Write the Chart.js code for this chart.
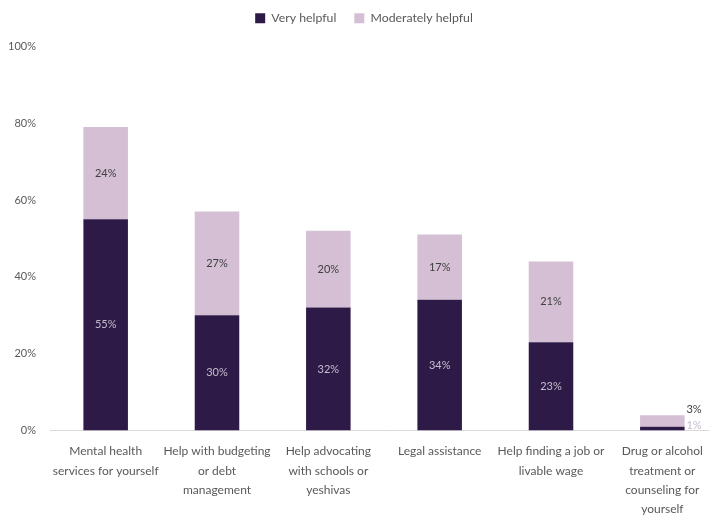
<!DOCTYPE html>
<html>
<head>
<meta charset="utf-8">
<script src="https://cdn.jsdelivr.net/npm/chart.js@4.4.0/dist/chart.umd.min.js"></script>
<style>
  html, body { margin: 0; padding: 0; background: #fff; overflow: hidden; }
  #wrap { width: 718px; height: 515px; position: relative; }
</style>
</head>
<body>
<div id="wrap"><canvas id="chart"></canvas></div>
<script>
const categories = [
  ["Mental health", "services for yourself"],
  ["Help with budgeting", "or debt", "management"],
  ["Help advocating", "with schools or", "yeshivas"],
  ["Legal assistance"],
  ["Help finding a job or", "livable wage"],
  ["Drug or alcohol", "treatment or", "counseling for", "yourself"]
];
const veryHelpful = [55, 30, 32, 34, 23, 1];
const moderatelyHelpful = [24, 27, 20, 17, 21, 3];
const yTicks = [0, 20, 40, 60, 80, 100];

const darkColor = "#2e1a47";
const lightColor = "#d4bfd4";

// labels inside the segments, last small bar gets labels beside it
const segmentLabels = {
  id: "segmentLabels",
  afterDatasetsDraw(chart) {
    const ctx = chart.ctx;
    ctx.save();
    ctx.font = "11px Lato";
    ctx.textBaseline = "middle";
    chart.data.datasets.forEach((ds, di) => {
      const meta = chart.getDatasetMeta(di);
      meta.data.forEach((bar, i) => {
        const txt = ds.data[i] + "%";
        ctx.fillStyle = di === 0 ? "#c4bccc" : "#404040";
        if (i === ds.data.length - 1) {
          ctx.textAlign = "right";
          const x = bar.x + bar.width / 2 + 17;
          const y = di === 0 ? bar.y - 1 : bar.y - 6;
          ctx.fillText(txt, x, y);
        } else {
          ctx.textAlign = "center";
          ctx.fillText(txt, bar.x, (bar.y + bar.base) / 2);
        }
      });
    });
    ctx.restore();
  }
};

// extra space under the legend, and nudge it a bit to the right
const legendMargin = {
  id: "legendMargin",
  beforeInit(chart) {
    const legend = chart.legend;
    const fit = legend.fit;
    const draw = legend.draw;
    legend.fit = function () {
      fit.call(this);
      this.height += 12;
    };
    legend.draw = function () {
      chart.ctx.save();
      chart.ctx.translate(5, 0);
      draw.call(this);
      chart.ctx.restore();
    };
  }
};

new Chart(document.getElementById("chart"), {
  type: "bar",
  data: {
    labels: categories,
    datasets: [
      {
        label: "Very helpful",
        data: veryHelpful,
        backgroundColor: darkColor,
        barPercentage: 0.4,
        categoryPercentage: 1
      },
      {
        label: "Moderately helpful",
        data: moderatelyHelpful,
        backgroundColor: lightColor,
        barPercentage: 0.4,
        categoryPercentage: 1
      }
    ]
  },
  options: {
    responsive: true,
    maintainAspectRatio: false,
    animation: false,
    layout: { padding: { left: 0, right: 0, top: -6, bottom: 0 } },
    plugins: {
      legend: {
        position: "top",
        labels: {
          boxWidth: 10,
          boxHeight: 10,
          padding: 18,
          color: "#595959",
          font: { family: "Lato", size: 12.3 }
        }
      },
      tooltip: { enabled: false }
    },
    scales: {
      x: {
        stacked: true,
        grid: { display: false, drawTicks: false },
        border: { display: true, color: "#d9d9d9", width: 1 },
        afterFit: (axis) => { axis.height = 84.5; },
        ticks: {
          color: "#595959",
          maxRotation: 0,
          autoSkip: false,
          padding: 11,
          font: { family: "Lato", size: 12, lineHeight: 1.62 }
        }
      },
      y: {
        stacked: true,
        min: 0,
        max: 100,
        afterBuildTicks: (axis) => {
          axis.ticks = yTicks.map((v) => ({ value: v }));
        },
        afterFit: (axis) => { axis.width = 50; },
        grid: { display: false, drawTicks: false },
        border: { display: false },
        ticks: {
          color: "#595959",
          padding: 14,
          font: { family: "Lato", size: 11 },
          callback: (v) => v + "%"
        }
      }
    }
  },
  plugins: [segmentLabels, legendMargin]
});
</script>
</body>
</html>
